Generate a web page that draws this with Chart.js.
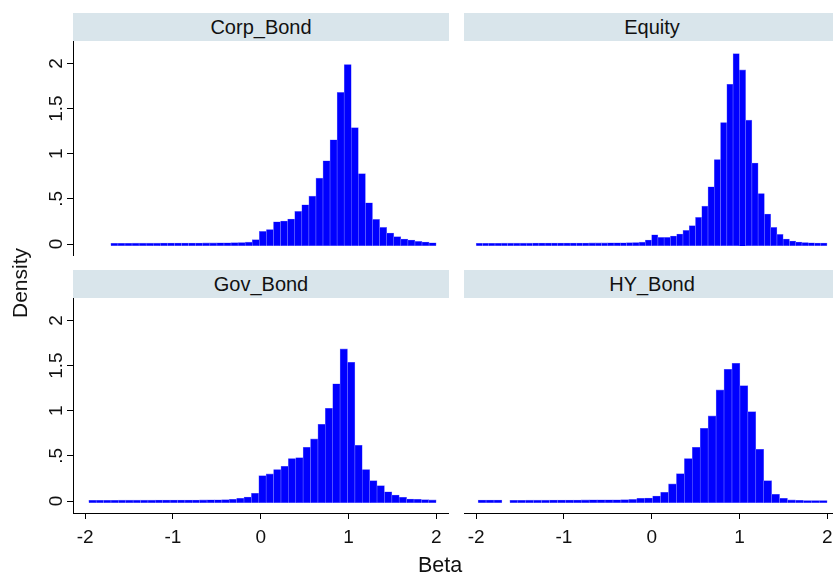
<!DOCTYPE html>
<html>
<head>
<meta charset="utf-8">
<script src="https://cdn.jsdelivr.net/npm/chart.js@4.4.1/dist/chart.umd.min.js"></script>
<style>
  html, body { margin: 0; padding: 0; background: #ffffff; width: 833px; height: 576px; overflow: hidden; }
  body { position: relative; font-family: "Liberation Sans", Arial, sans-serif; }
  .hdr { position: absolute; height: 28px; line-height: 28px; background: #d9e5eb; color: #111111;
         font-size: 20px; text-align: center; white-space: nowrap; overflow: hidden; }
  .cv { position: absolute; }
  .axt { position: absolute; color: #111111; font-size: 21px; white-space: nowrap; }
</style>
</head>
<body>
<div class="hdr" id="h0" style="left:73px; top:13px; width:376px;"></div>
<div class="hdr" id="h1" style="left:464px; top:13px; width:376px;"></div>
<div class="hdr" id="h2" style="left:73px; top:270px; width:376px;"></div>
<div class="hdr" id="h3" style="left:464px; top:270px; width:376px;"></div>

<canvas class="cv" id="c0" width="449" height="215" style="left:0px; top:41px;"></canvas>
<canvas class="cv" id="c1" width="376" height="215" style="left:464px; top:41px;"></canvas>
<canvas class="cv" id="c2" width="449" height="265" style="left:0px; top:298px;"></canvas>
<canvas class="cv" id="c3" width="376" height="265" style="left:464px; top:298px;"></canvas>

<div class="axt" id="ytitle" style="left:20px; top:283px; transform: translate(-50%, -50%) rotate(-90deg);"></div>
<div class="axt" id="xtitle" style="left:440px; top:565px; transform: translate(-50%, -50%); font-size:21.5px;"></div>

<script>
// ---------------- data ----------------
const panelTitles = ["Corp_Bond", "Equity", "Gov_Bond", "HY_Bond"];
const xAxisTitle = "Beta";
const yAxisTitle = "Density";

const xTickValues = [-2, -1, 0, 1, 2];
const xTickLabels = ["-2", "-1", "0", "1", "2"];
const yTickValues = [0, 0.5, 1, 1.5, 2];
const yTickLabels = ["0", ".5", "1", "1.5", "2"];

// histogram bins: first bin edge and bin width for each panel
const corpBinStart = -1.708,  corpBinWidth = 0.0806;
const equityBinStart = -2.0,  equityBinWidth = 0.0714;
const govBinStart = -1.959,   govBinWidth = 0.08423;
const hyBinStart = -1.978,    hyBinWidth = 0.0904;

const corpBondDensity = [
  0.008, 0.008, 0.008, 0.009, 0.009, 0.009, 0.009, 0.010, 0.010, 0.010,
  0.011, 0.011, 0.011, 0.012, 0.012, 0.013, 0.014, 0.015, 0.017, 0.020,
  0.048, 0.140, 0.160, 0.247, 0.255, 0.277, 0.361, 0.435, 0.530, 0.730,
  0.922, 1.155, 1.680, 1.990, 1.290, 0.780, 0.457, 0.273, 0.184, 0.122,
  0.081, 0.055, 0.044, 0.029, 0.022, 0.014
];
const equityDensity = [
  0.008, 0.008, 0.008, 0.008, 0.009, 0.009, 0.009, 0.009, 0.009, 0.010,
  0.010, 0.010, 0.010, 0.010, 0.011, 0.011, 0.011, 0.011, 0.012, 0.012,
  0.012, 0.013, 0.013, 0.014, 0.015, 0.017, 0.020,
  0.044, 0.103, 0.073, 0.073, 0.089, 0.111, 0.151, 0.203, 0.295, 0.420,
  0.635, 0.937, 1.347, 1.770, 2.110, 1.930, 1.373, 0.897, 0.560, 0.332,
  0.184, 0.106, 0.055, 0.033, 0.022, 0.016, 0.013, 0.011, 0.010
];
const govBondDensity = [
  0.008, 0.008, 0.008, 0.008, 0.009, 0.009, 0.009, 0.009, 0.009, 0.010,
  0.010, 0.010, 0.010, 0.011, 0.011, 0.012, 0.013, 0.014, 0.015,
  0.019, 0.030, 0.044, 0.085, 0.281, 0.300, 0.348, 0.385, 0.470, 0.480,
  0.595, 0.688, 0.850, 1.028, 1.300, 1.686, 1.538, 0.617, 0.348, 0.225,
  0.170, 0.103, 0.067, 0.041, 0.022, 0.019, 0.015, 0.012
];
const hyBondDensity = [
  0.010, 0.010, 0.010, null, 0.008, 0.008, 0.009, 0.009, 0.009, 0.010,
  0.010, 0.010, 0.011, 0.012, 0.013, 0.014, 0.014, 0.014, 0.015, 0.018,
  0.030, 0.033, 0.055, 0.096, 0.189, 0.303, 0.470, 0.595, 0.806, 0.943,
  1.231, 1.460, 1.527, 1.279, 0.990, 0.573, 0.225, 0.074, 0.030, 0.012,
  0.008, 0.006, 0.006, 0.006
];

// ---------------- styling / layout ----------------
const FONT = '"Liberation Sans", Arial, sans-serif';
const X_MIN = -2.139, X_MAX = 2.146;
const Y_MIN = -0.133, Y_MAX = 2.25;
const BAR_BASE = -0.019;

document.getElementById('h0').textContent = panelTitles[0];
document.getElementById('h1').textContent = panelTitles[1];
document.getElementById('h2').textContent = panelTitles[2];
document.getElementById('h3').textContent = panelTitles[3];
document.getElementById('ytitle').textContent = yAxisTitle;
document.getElementById('xtitle').textContent = xAxisTitle;

function toPoints(values, start, width) {
  return values.map((v, i) => ({ x: start + width * (i + 0.5), y: v }));
}

function makePanel(canvasId, values, start, width, showX, showY) {
  const ctx = document.getElementById(canvasId).getContext('2d');
  return new Chart(ctx, {
    type: 'bar',
    data: {
      datasets: [{
        data: toPoints(values, start, width),
        backgroundColor: '#0000ff',
        borderColor: '#7070ff',
        borderWidth: 0.6,
        base: BAR_BASE,
        barPercentage: 1.0,
        categoryPercentage: 1.0
      }]
    },
    options: {
      responsive: false,
      animation: false,
      events: [],
      layout: { padding: 0 },
      plugins: { legend: { display: false }, tooltip: { enabled: false }, title: { display: false } },
      scales: {
        x: {
          type: 'linear',
          display: showX,
          min: X_MIN, max: X_MAX,
          offset: false,
          afterBuildTicks: s => { s.ticks = xTickValues.map(v => ({ value: v })); },
          afterFit: s => { s.height = showX ? 50 : 0; s.paddingLeft = 0; s.paddingRight = 0; },
          grid: { offset: false, drawOnChartArea: false, drawTicks: true, tickLength: 6, tickColor: '#000000', lineWidth: 1 },
          border: { display: true, color: '#000000', width: 1 },
          ticks: {
            minRotation: 0, maxRotation: 0, autoSkip: false, padding: 7,
            color: '#111111', font: { family: FONT, size: 19 },
            callback: v => xTickLabels[xTickValues.indexOf(v)]
          }
        },
        y: {
          type: 'linear',
          display: showY,
          min: Y_MIN, max: Y_MAX,
          afterBuildTicks: s => { s.ticks = yTickValues.map(v => ({ value: v })); },
          afterFit: s => { s.width = showY ? 73 : 0; s.paddingTop = 0; s.paddingBottom = 0; },
          grid: { drawOnChartArea: false, drawTicks: true, tickLength: 6, tickColor: '#000000', lineWidth: 1 },
          border: { display: true, color: '#000000', width: 1 },
          ticks: {
            minRotation: 90, maxRotation: 90, crossAlign: 'center', autoSkip: false, padding: -3,
            color: '#111111', font: { family: FONT, size: 19 },
            callback: v => yTickLabels[yTickValues.indexOf(v)]
          }
        }
      }
    }
  });
}

makePanel('c0', corpBondDensity, corpBinStart, corpBinWidth, false, true);
makePanel('c1', equityDensity, equityBinStart, equityBinWidth, false, false);
makePanel('c2', govBondDensity, govBinStart, govBinWidth, true, true);
makePanel('c3', hyBondDensity, hyBinStart, hyBinWidth, true, false);
</script>
</body>
</html>
